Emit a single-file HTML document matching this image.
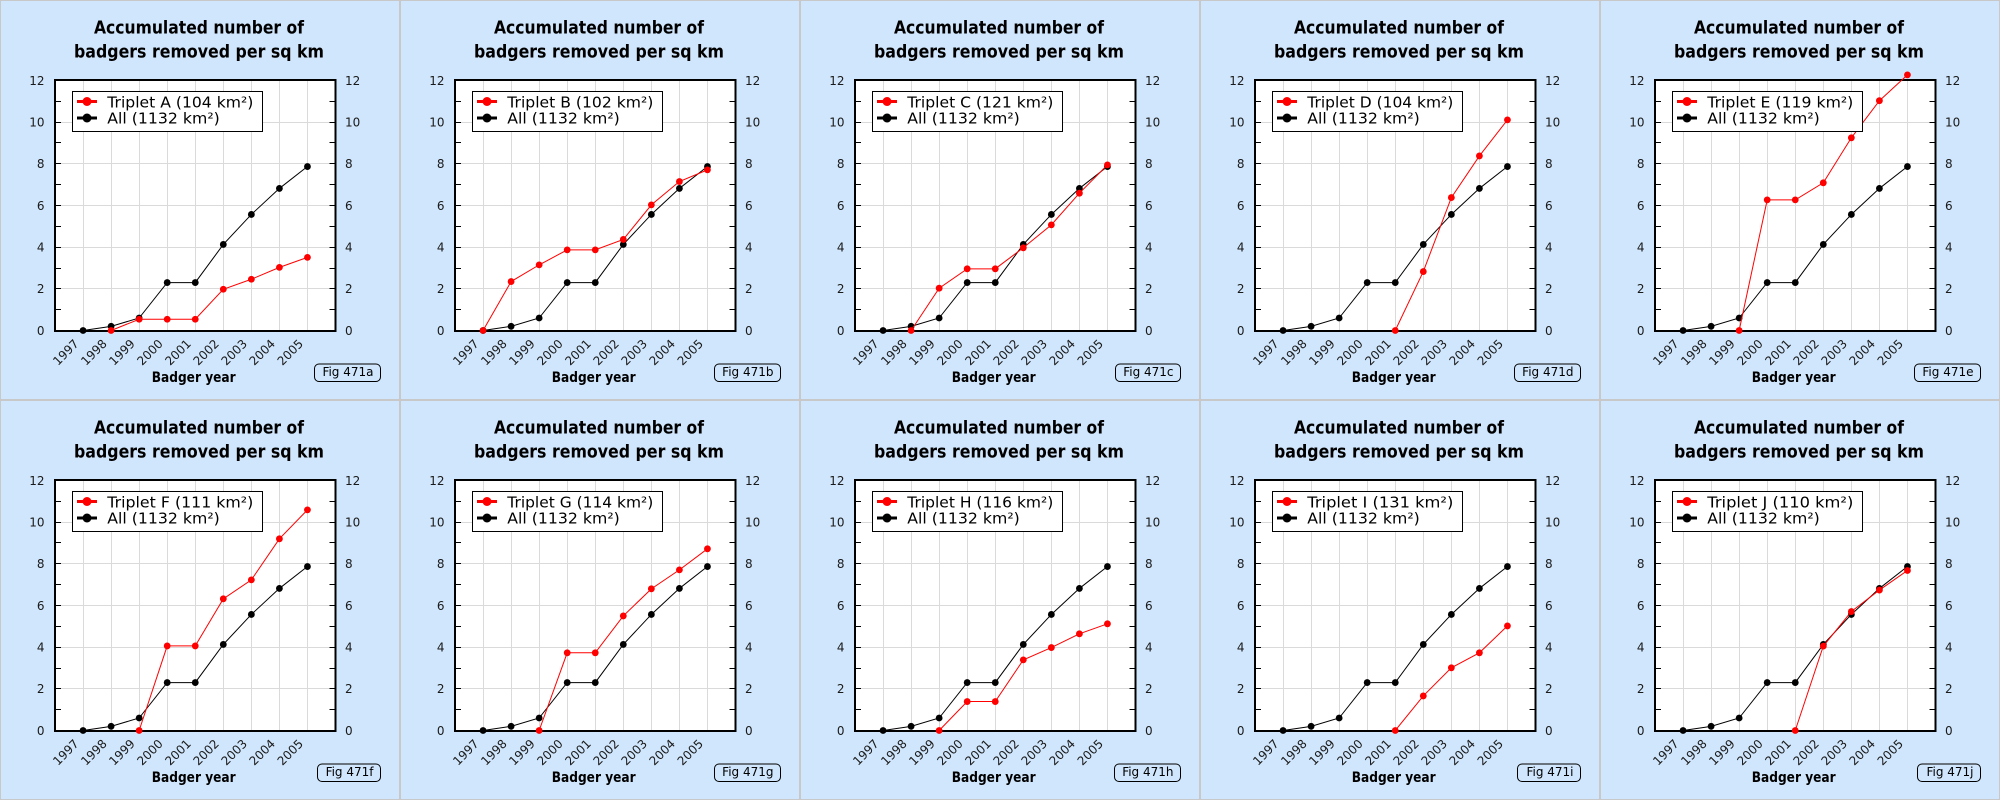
<!DOCTYPE html>
<html><head><meta charset="utf-8"><style>
html,body{margin:0;padding:0;background:#d0e6fc}
svg{display:block}
svg text{font-family:"DejaVu Sans","Liberation Sans",sans-serif}
.ti{font-size:17.5px;font-weight:bold;text-anchor:middle;fill:#000}
.yl{font-size:12px;text-anchor:end;fill:#1a1a1a}
.yr{font-size:12px;fill:#1a1a1a}
.xl{font-size:12px;text-anchor:end;fill:#1a1a1a}
.ax{font-size:14px;font-weight:bold;text-anchor:middle;fill:#000}
.lg{font-size:15px;fill:#000}
.fg{font-size:12px;text-anchor:end;fill:#000}
.rs{fill:none;stroke:#f00;stroke-width:1;marker-start:url(#mr);marker-mid:url(#mr);marker-end:url(#mr)}
.ks{fill:none;stroke:#000;stroke-width:1;marker-start:url(#mk);marker-mid:url(#mk);marker-end:url(#mk)}
</style></head><body>
<svg xmlns="http://www.w3.org/2000/svg" xmlns:xlink="http://www.w3.org/1999/xlink" width="2000" height="800" viewBox="0 0 2000 800">
<defs>
<marker id="mr" viewBox="-5 -5 10 10" markerWidth="10" markerHeight="10" refX="0" refY="0" markerUnits="userSpaceOnUse"><circle r="3.4" fill="#f00"/></marker>
<marker id="mk" viewBox="-5 -5 10 10" markerWidth="10" markerHeight="10" refX="0" refY="0" markerUnits="userSpaceOnUse"><circle r="3.4" fill="#000"/></marker>
<g id="base">
<rect x="0.5" y="0.5" width="399" height="399" fill="#d0e6fc" stroke="#c8c8c8"/>
<rect x="55" y="80" width="280.5" height="251" fill="#fff"/>
<path d="M83.5 80V331M111.5 80V331M139.5 80V331M167.5 80V331M195.5 80V331M223.5 80V331M251.5 80V331M279.5 80V331M307.5 80V331M55 288.5H335.5M55 247.5H335.5M55 205.5H335.5M55 163.5H335.5M55 122.5H335.5" stroke="#dadada" stroke-width="1" fill="none"/>
<path d="M56 309.5h5M56 288.5h5M56 268.5h5M56 247.5h5M56 226.5h5M56 205.5h5M56 184.5h5M56 163.5h5M56 142.5h5M56 122.5h5M56 101.5h5M334.5 309.5h-5M334.5 288.5h-5M334.5 268.5h-5M334.5 247.5h-5M334.5 226.5h-5M334.5 205.5h-5M334.5 184.5h-5M334.5 163.5h-5M334.5 142.5h-5M334.5 122.5h-5M334.5 101.5h-5" stroke="#000" stroke-width="1" fill="none"/>
<rect x="55" y="80" width="280.5" height="251" fill="none" stroke="#000" stroke-width="2"/>
<polyline class="ks" points="83.05,330.5 111.1,326.33 139.15,318 167.2,282.58 195.25,282.58 223.3,244.46 251.35,214.46 279.4,188.42 307.45,166.54"/>
</g>
<g id="leg">
<rect x="72.5" y="91.5" width="190" height="40" fill="#fff" stroke="#000"/>
<path d="M77 101.5H97" stroke="#f00" stroke-width="3"/>
<circle cx="87" cy="101.5" r="4.5" fill="#f00"/>
<path d="M77 118H97" stroke="#000" stroke-width="3"/>
<circle cx="87" cy="118" r="4.5" fill="#000"/>
</g>
</defs>

<!-- Panel A -->
<g transform="translate(0,0)">
<use xlink:href="#base"/>
<polyline class="rs" points="111.1,330.5 139.15,319.25 167.2,319.25 195.25,319.25 223.3,289.25 251.35,279.25 279.4,267.38 307.45,257.38"/>
<use xlink:href="#leg"/>
<text class="ti" x="199" y="33.3" textLength="210" lengthAdjust="spacingAndGlyphs">Accumulated number of</text>
<text class="ti" x="199" y="57.3" textLength="250" lengthAdjust="spacingAndGlyphs">badgers removed per sq km</text>
<text class="yl" x="44.5" y="334.8">0</text><text class="yl" x="44.5" y="293.1">2</text><text class="yl" x="44.5" y="251.5">4</text><text class="yl" x="44.5" y="209.8">6</text><text class="yl" x="44.5" y="168.1">8</text><text class="yl" x="44.5" y="126.5">10</text><text class="yl" x="44.5" y="84.8">12</text>
<text class="yr" x="345" y="334.8">0</text><text class="yr" x="345" y="293.1">2</text><text class="yr" x="345" y="251.5">4</text><text class="yr" x="345" y="209.8">6</text><text class="yr" x="345" y="168.1">8</text><text class="yr" x="345" y="126.5">10</text><text class="yr" x="345" y="84.8">12</text>
<text class="xl" transform="translate(79.55 344.5) rotate(-45)">1997</text><text class="xl" transform="translate(107.6 344.5) rotate(-45)">1998</text><text class="xl" transform="translate(135.65 344.5) rotate(-45)">1999</text><text class="xl" transform="translate(163.7 344.5) rotate(-45)">2000</text><text class="xl" transform="translate(191.75 344.5) rotate(-45)">2001</text><text class="xl" transform="translate(219.8 344.5) rotate(-45)">2002</text><text class="xl" transform="translate(247.85 344.5) rotate(-45)">2003</text><text class="xl" transform="translate(275.9 344.5) rotate(-45)">2004</text><text class="xl" transform="translate(303.95 344.5) rotate(-45)">2005</text>
<text class="ax" x="193.7" y="382" textLength="84" lengthAdjust="spacingAndGlyphs">Badger year</text>
<text class="lg" x="107.3" y="107.5" textLength="146" lengthAdjust="spacingAndGlyphs">Triplet A (104 km²)</text>
<text class="lg" x="107.3" y="123.5" textLength="112.5" lengthAdjust="spacingAndGlyphs">All (1132 km²)</text>
<rect x="314.5" y="364" width="66" height="17.5" rx="4.5" fill="none" stroke="#000"/>
<text class="fg" x="373.5" y="376">Fig 471a</text>
</g>

<!-- Panel B -->
<g transform="translate(400,0)">
<use xlink:href="#base"/>
<polyline class="rs" points="83.05,330.5 111.1,281.54 139.15,264.88 167.2,249.88 195.25,249.88 223.3,239.46 251.35,204.88 279.4,181.54 307.45,169.88"/>
<use xlink:href="#leg"/>
<text class="ti" x="199" y="33.3" textLength="210" lengthAdjust="spacingAndGlyphs">Accumulated number of</text>
<text class="ti" x="199" y="57.3" textLength="250" lengthAdjust="spacingAndGlyphs">badgers removed per sq km</text>
<text class="yl" x="44.5" y="334.8">0</text><text class="yl" x="44.5" y="293.1">2</text><text class="yl" x="44.5" y="251.5">4</text><text class="yl" x="44.5" y="209.8">6</text><text class="yl" x="44.5" y="168.1">8</text><text class="yl" x="44.5" y="126.5">10</text><text class="yl" x="44.5" y="84.8">12</text>
<text class="yr" x="345" y="334.8">0</text><text class="yr" x="345" y="293.1">2</text><text class="yr" x="345" y="251.5">4</text><text class="yr" x="345" y="209.8">6</text><text class="yr" x="345" y="168.1">8</text><text class="yr" x="345" y="126.5">10</text><text class="yr" x="345" y="84.8">12</text>
<text class="xl" transform="translate(79.55 344.5) rotate(-45)">1997</text><text class="xl" transform="translate(107.6 344.5) rotate(-45)">1998</text><text class="xl" transform="translate(135.65 344.5) rotate(-45)">1999</text><text class="xl" transform="translate(163.7 344.5) rotate(-45)">2000</text><text class="xl" transform="translate(191.75 344.5) rotate(-45)">2001</text><text class="xl" transform="translate(219.8 344.5) rotate(-45)">2002</text><text class="xl" transform="translate(247.85 344.5) rotate(-45)">2003</text><text class="xl" transform="translate(275.9 344.5) rotate(-45)">2004</text><text class="xl" transform="translate(303.95 344.5) rotate(-45)">2005</text>
<text class="ax" x="193.7" y="382" textLength="84" lengthAdjust="spacingAndGlyphs">Badger year</text>
<text class="lg" x="107.3" y="107.5" textLength="146" lengthAdjust="spacingAndGlyphs">Triplet B (102 km²)</text>
<text class="lg" x="107.3" y="123.5" textLength="112.5" lengthAdjust="spacingAndGlyphs">All (1132 km²)</text>
<rect x="314.5" y="364" width="66" height="17.5" rx="4.5" fill="none" stroke="#000"/>
<text class="fg" x="373.5" y="376">Fig 471b</text>
</g>

<!-- Panel C -->
<g transform="translate(800,0)">
<use xlink:href="#base"/>
<polyline class="rs" points="111.1,330.5 139.15,288.21 167.2,268.83 195.25,268.83 223.3,247.79 251.35,224.88 279.4,193.21 307.45,164.88"/>
<use xlink:href="#leg"/>
<text class="ti" x="199" y="33.3" textLength="210" lengthAdjust="spacingAndGlyphs">Accumulated number of</text>
<text class="ti" x="199" y="57.3" textLength="250" lengthAdjust="spacingAndGlyphs">badgers removed per sq km</text>
<text class="yl" x="44.5" y="334.8">0</text><text class="yl" x="44.5" y="293.1">2</text><text class="yl" x="44.5" y="251.5">4</text><text class="yl" x="44.5" y="209.8">6</text><text class="yl" x="44.5" y="168.1">8</text><text class="yl" x="44.5" y="126.5">10</text><text class="yl" x="44.5" y="84.8">12</text>
<text class="yr" x="345" y="334.8">0</text><text class="yr" x="345" y="293.1">2</text><text class="yr" x="345" y="251.5">4</text><text class="yr" x="345" y="209.8">6</text><text class="yr" x="345" y="168.1">8</text><text class="yr" x="345" y="126.5">10</text><text class="yr" x="345" y="84.8">12</text>
<text class="xl" transform="translate(79.55 344.5) rotate(-45)">1997</text><text class="xl" transform="translate(107.6 344.5) rotate(-45)">1998</text><text class="xl" transform="translate(135.65 344.5) rotate(-45)">1999</text><text class="xl" transform="translate(163.7 344.5) rotate(-45)">2000</text><text class="xl" transform="translate(191.75 344.5) rotate(-45)">2001</text><text class="xl" transform="translate(219.8 344.5) rotate(-45)">2002</text><text class="xl" transform="translate(247.85 344.5) rotate(-45)">2003</text><text class="xl" transform="translate(275.9 344.5) rotate(-45)">2004</text><text class="xl" transform="translate(303.95 344.5) rotate(-45)">2005</text>
<text class="ax" x="193.7" y="382" textLength="84" lengthAdjust="spacingAndGlyphs">Badger year</text>
<text class="lg" x="107.3" y="107.5" textLength="146" lengthAdjust="spacingAndGlyphs">Triplet C (121 km²)</text>
<text class="lg" x="107.3" y="123.5" textLength="112.5" lengthAdjust="spacingAndGlyphs">All (1132 km²)</text>
<rect x="315.5" y="364" width="65" height="17.5" rx="4.5" fill="none" stroke="#000"/>
<text class="fg" x="373.5" y="376">Fig 471c</text>
</g>

<!-- Panel D -->
<g transform="translate(1200,0)">
<use xlink:href="#base"/>
<polyline class="rs" points="195.25,330.5 223.3,271.54 251.35,197.58 279.4,155.92 307.45,119.88"/>
<use xlink:href="#leg"/>
<text class="ti" x="199" y="33.3" textLength="210" lengthAdjust="spacingAndGlyphs">Accumulated number of</text>
<text class="ti" x="199" y="57.3" textLength="250" lengthAdjust="spacingAndGlyphs">badgers removed per sq km</text>
<text class="yl" x="44.5" y="334.8">0</text><text class="yl" x="44.5" y="293.1">2</text><text class="yl" x="44.5" y="251.5">4</text><text class="yl" x="44.5" y="209.8">6</text><text class="yl" x="44.5" y="168.1">8</text><text class="yl" x="44.5" y="126.5">10</text><text class="yl" x="44.5" y="84.8">12</text>
<text class="yr" x="345" y="334.8">0</text><text class="yr" x="345" y="293.1">2</text><text class="yr" x="345" y="251.5">4</text><text class="yr" x="345" y="209.8">6</text><text class="yr" x="345" y="168.1">8</text><text class="yr" x="345" y="126.5">10</text><text class="yr" x="345" y="84.8">12</text>
<text class="xl" transform="translate(79.55 344.5) rotate(-45)">1997</text><text class="xl" transform="translate(107.6 344.5) rotate(-45)">1998</text><text class="xl" transform="translate(135.65 344.5) rotate(-45)">1999</text><text class="xl" transform="translate(163.7 344.5) rotate(-45)">2000</text><text class="xl" transform="translate(191.75 344.5) rotate(-45)">2001</text><text class="xl" transform="translate(219.8 344.5) rotate(-45)">2002</text><text class="xl" transform="translate(247.85 344.5) rotate(-45)">2003</text><text class="xl" transform="translate(275.9 344.5) rotate(-45)">2004</text><text class="xl" transform="translate(303.95 344.5) rotate(-45)">2005</text>
<text class="ax" x="193.7" y="382" textLength="84" lengthAdjust="spacingAndGlyphs">Badger year</text>
<text class="lg" x="107.3" y="107.5" textLength="146" lengthAdjust="spacingAndGlyphs">Triplet D (104 km²)</text>
<text class="lg" x="107.3" y="123.5" textLength="112.5" lengthAdjust="spacingAndGlyphs">All (1132 km²)</text>
<rect x="314.5" y="364" width="66" height="17.5" rx="4.5" fill="none" stroke="#000"/>
<text class="fg" x="373.5" y="376">Fig 471d</text>
</g>

<!-- Panel E -->
<g transform="translate(1600,0)">
<use xlink:href="#base"/>
<polyline class="rs" points="139.15,330.5 167.2,199.88 195.25,199.88 223.3,182.79 251.35,137.79 279.4,100.71 307.45,74.88"/>
<use xlink:href="#leg"/>
<text class="ti" x="199" y="33.3" textLength="210" lengthAdjust="spacingAndGlyphs">Accumulated number of</text>
<text class="ti" x="199" y="57.3" textLength="250" lengthAdjust="spacingAndGlyphs">badgers removed per sq km</text>
<text class="yl" x="44.5" y="334.8">0</text><text class="yl" x="44.5" y="293.1">2</text><text class="yl" x="44.5" y="251.5">4</text><text class="yl" x="44.5" y="209.8">6</text><text class="yl" x="44.5" y="168.1">8</text><text class="yl" x="44.5" y="126.5">10</text><text class="yl" x="44.5" y="84.8">12</text>
<text class="yr" x="345" y="334.8">0</text><text class="yr" x="345" y="293.1">2</text><text class="yr" x="345" y="251.5">4</text><text class="yr" x="345" y="209.8">6</text><text class="yr" x="345" y="168.1">8</text><text class="yr" x="345" y="126.5">10</text><text class="yr" x="345" y="84.8">12</text>
<text class="xl" transform="translate(79.55 344.5) rotate(-45)">1997</text><text class="xl" transform="translate(107.6 344.5) rotate(-45)">1998</text><text class="xl" transform="translate(135.65 344.5) rotate(-45)">1999</text><text class="xl" transform="translate(163.7 344.5) rotate(-45)">2000</text><text class="xl" transform="translate(191.75 344.5) rotate(-45)">2001</text><text class="xl" transform="translate(219.8 344.5) rotate(-45)">2002</text><text class="xl" transform="translate(247.85 344.5) rotate(-45)">2003</text><text class="xl" transform="translate(275.9 344.5) rotate(-45)">2004</text><text class="xl" transform="translate(303.95 344.5) rotate(-45)">2005</text>
<text class="ax" x="193.7" y="382" textLength="84" lengthAdjust="spacingAndGlyphs">Badger year</text>
<text class="lg" x="107.3" y="107.5" textLength="146" lengthAdjust="spacingAndGlyphs">Triplet E (119 km²)</text>
<text class="lg" x="107.3" y="123.5" textLength="112.5" lengthAdjust="spacingAndGlyphs">All (1132 km²)</text>
<rect x="314.5" y="364" width="66" height="17.5" rx="4.5" fill="none" stroke="#000"/>
<text class="fg" x="373.5" y="376">Fig 471e</text>
</g>

<!-- Panel F -->
<g transform="translate(0,400)">
<use xlink:href="#base"/>
<polyline class="rs" points="139.15,330.5 167.2,245.92 195.25,245.92 223.3,198.83 251.35,179.88 279.4,138.83 307.45,109.88"/>
<use xlink:href="#leg"/>
<text class="ti" x="199" y="33.3" textLength="210" lengthAdjust="spacingAndGlyphs">Accumulated number of</text>
<text class="ti" x="199" y="57.3" textLength="250" lengthAdjust="spacingAndGlyphs">badgers removed per sq km</text>
<text class="yl" x="44.5" y="334.8">0</text><text class="yl" x="44.5" y="293.1">2</text><text class="yl" x="44.5" y="251.5">4</text><text class="yl" x="44.5" y="209.8">6</text><text class="yl" x="44.5" y="168.1">8</text><text class="yl" x="44.5" y="126.5">10</text><text class="yl" x="44.5" y="84.8">12</text>
<text class="yr" x="345" y="334.8">0</text><text class="yr" x="345" y="293.1">2</text><text class="yr" x="345" y="251.5">4</text><text class="yr" x="345" y="209.8">6</text><text class="yr" x="345" y="168.1">8</text><text class="yr" x="345" y="126.5">10</text><text class="yr" x="345" y="84.8">12</text>
<text class="xl" transform="translate(79.55 344.5) rotate(-45)">1997</text><text class="xl" transform="translate(107.6 344.5) rotate(-45)">1998</text><text class="xl" transform="translate(135.65 344.5) rotate(-45)">1999</text><text class="xl" transform="translate(163.7 344.5) rotate(-45)">2000</text><text class="xl" transform="translate(191.75 344.5) rotate(-45)">2001</text><text class="xl" transform="translate(219.8 344.5) rotate(-45)">2002</text><text class="xl" transform="translate(247.85 344.5) rotate(-45)">2003</text><text class="xl" transform="translate(275.9 344.5) rotate(-45)">2004</text><text class="xl" transform="translate(303.95 344.5) rotate(-45)">2005</text>
<text class="ax" x="193.7" y="382" textLength="84" lengthAdjust="spacingAndGlyphs">Badger year</text>
<text class="lg" x="107.3" y="107.5" textLength="146" lengthAdjust="spacingAndGlyphs">Triplet F (111 km²)</text>
<text class="lg" x="107.3" y="123.5" textLength="112.5" lengthAdjust="spacingAndGlyphs">All (1132 km²)</text>
<rect x="317.5" y="364" width="63" height="17.5" rx="4.5" fill="none" stroke="#000"/>
<text class="fg" x="373.5" y="376">Fig 471f</text>
</g>

<!-- Panel G -->
<g transform="translate(400,400)">
<use xlink:href="#base"/>
<polyline class="rs" points="139.15,330.5 167.2,252.79 195.25,252.79 223.3,215.92 251.35,188.83 279.4,169.88 307.45,148.83"/>
<use xlink:href="#leg"/>
<text class="ti" x="199" y="33.3" textLength="210" lengthAdjust="spacingAndGlyphs">Accumulated number of</text>
<text class="ti" x="199" y="57.3" textLength="250" lengthAdjust="spacingAndGlyphs">badgers removed per sq km</text>
<text class="yl" x="44.5" y="334.8">0</text><text class="yl" x="44.5" y="293.1">2</text><text class="yl" x="44.5" y="251.5">4</text><text class="yl" x="44.5" y="209.8">6</text><text class="yl" x="44.5" y="168.1">8</text><text class="yl" x="44.5" y="126.5">10</text><text class="yl" x="44.5" y="84.8">12</text>
<text class="yr" x="345" y="334.8">0</text><text class="yr" x="345" y="293.1">2</text><text class="yr" x="345" y="251.5">4</text><text class="yr" x="345" y="209.8">6</text><text class="yr" x="345" y="168.1">8</text><text class="yr" x="345" y="126.5">10</text><text class="yr" x="345" y="84.8">12</text>
<text class="xl" transform="translate(79.55 344.5) rotate(-45)">1997</text><text class="xl" transform="translate(107.6 344.5) rotate(-45)">1998</text><text class="xl" transform="translate(135.65 344.5) rotate(-45)">1999</text><text class="xl" transform="translate(163.7 344.5) rotate(-45)">2000</text><text class="xl" transform="translate(191.75 344.5) rotate(-45)">2001</text><text class="xl" transform="translate(219.8 344.5) rotate(-45)">2002</text><text class="xl" transform="translate(247.85 344.5) rotate(-45)">2003</text><text class="xl" transform="translate(275.9 344.5) rotate(-45)">2004</text><text class="xl" transform="translate(303.95 344.5) rotate(-45)">2005</text>
<text class="ax" x="193.7" y="382" textLength="84" lengthAdjust="spacingAndGlyphs">Badger year</text>
<text class="lg" x="107.3" y="107.5" textLength="146" lengthAdjust="spacingAndGlyphs">Triplet G (114 km²)</text>
<text class="lg" x="107.3" y="123.5" textLength="112.5" lengthAdjust="spacingAndGlyphs">All (1132 km²)</text>
<rect x="314.5" y="364" width="66" height="17.5" rx="4.5" fill="none" stroke="#000"/>
<text class="fg" x="373.5" y="376">Fig 471g</text>
</g>

<!-- Panel H -->
<g transform="translate(800,400)">
<use xlink:href="#base"/>
<polyline class="rs" points="139.15,330.5 167.2,301.54 195.25,301.54 223.3,259.88 251.35,247.58 279.4,233.83 307.45,223.83"/>
<use xlink:href="#leg"/>
<text class="ti" x="199" y="33.3" textLength="210" lengthAdjust="spacingAndGlyphs">Accumulated number of</text>
<text class="ti" x="199" y="57.3" textLength="250" lengthAdjust="spacingAndGlyphs">badgers removed per sq km</text>
<text class="yl" x="44.5" y="334.8">0</text><text class="yl" x="44.5" y="293.1">2</text><text class="yl" x="44.5" y="251.5">4</text><text class="yl" x="44.5" y="209.8">6</text><text class="yl" x="44.5" y="168.1">8</text><text class="yl" x="44.5" y="126.5">10</text><text class="yl" x="44.5" y="84.8">12</text>
<text class="yr" x="345" y="334.8">0</text><text class="yr" x="345" y="293.1">2</text><text class="yr" x="345" y="251.5">4</text><text class="yr" x="345" y="209.8">6</text><text class="yr" x="345" y="168.1">8</text><text class="yr" x="345" y="126.5">10</text><text class="yr" x="345" y="84.8">12</text>
<text class="xl" transform="translate(79.55 344.5) rotate(-45)">1997</text><text class="xl" transform="translate(107.6 344.5) rotate(-45)">1998</text><text class="xl" transform="translate(135.65 344.5) rotate(-45)">1999</text><text class="xl" transform="translate(163.7 344.5) rotate(-45)">2000</text><text class="xl" transform="translate(191.75 344.5) rotate(-45)">2001</text><text class="xl" transform="translate(219.8 344.5) rotate(-45)">2002</text><text class="xl" transform="translate(247.85 344.5) rotate(-45)">2003</text><text class="xl" transform="translate(275.9 344.5) rotate(-45)">2004</text><text class="xl" transform="translate(303.95 344.5) rotate(-45)">2005</text>
<text class="ax" x="193.7" y="382" textLength="84" lengthAdjust="spacingAndGlyphs">Badger year</text>
<text class="lg" x="107.3" y="107.5" textLength="146" lengthAdjust="spacingAndGlyphs">Triplet H (116 km²)</text>
<text class="lg" x="107.3" y="123.5" textLength="112.5" lengthAdjust="spacingAndGlyphs">All (1132 km²)</text>
<rect x="314.5" y="364" width="66" height="17.5" rx="4.5" fill="none" stroke="#000"/>
<text class="fg" x="373.5" y="376">Fig 471h</text>
</g>

<!-- Panel I -->
<g transform="translate(1200,400)">
<use xlink:href="#base"/>
<polyline class="rs" points="195.25,330.5 223.3,295.92 251.35,267.79 279.4,252.79 307.45,225.92"/>
<use xlink:href="#leg"/>
<text class="ti" x="199" y="33.3" textLength="210" lengthAdjust="spacingAndGlyphs">Accumulated number of</text>
<text class="ti" x="199" y="57.3" textLength="250" lengthAdjust="spacingAndGlyphs">badgers removed per sq km</text>
<text class="yl" x="44.5" y="334.8">0</text><text class="yl" x="44.5" y="293.1">2</text><text class="yl" x="44.5" y="251.5">4</text><text class="yl" x="44.5" y="209.8">6</text><text class="yl" x="44.5" y="168.1">8</text><text class="yl" x="44.5" y="126.5">10</text><text class="yl" x="44.5" y="84.8">12</text>
<text class="yr" x="345" y="334.8">0</text><text class="yr" x="345" y="293.1">2</text><text class="yr" x="345" y="251.5">4</text><text class="yr" x="345" y="209.8">6</text><text class="yr" x="345" y="168.1">8</text><text class="yr" x="345" y="126.5">10</text><text class="yr" x="345" y="84.8">12</text>
<text class="xl" transform="translate(79.55 344.5) rotate(-45)">1997</text><text class="xl" transform="translate(107.6 344.5) rotate(-45)">1998</text><text class="xl" transform="translate(135.65 344.5) rotate(-45)">1999</text><text class="xl" transform="translate(163.7 344.5) rotate(-45)">2000</text><text class="xl" transform="translate(191.75 344.5) rotate(-45)">2001</text><text class="xl" transform="translate(219.8 344.5) rotate(-45)">2002</text><text class="xl" transform="translate(247.85 344.5) rotate(-45)">2003</text><text class="xl" transform="translate(275.9 344.5) rotate(-45)">2004</text><text class="xl" transform="translate(303.95 344.5) rotate(-45)">2005</text>
<text class="ax" x="193.7" y="382" textLength="84" lengthAdjust="spacingAndGlyphs">Badger year</text>
<text class="lg" x="107.3" y="107.5" textLength="146" lengthAdjust="spacingAndGlyphs">Triplet I (131 km²)</text>
<text class="lg" x="107.3" y="123.5" textLength="112.5" lengthAdjust="spacingAndGlyphs">All (1132 km²)</text>
<rect x="317.5" y="364" width="63" height="17.5" rx="4.5" fill="none" stroke="#000"/>
<text class="fg" x="373.5" y="376">Fig 471i</text>
</g>

<!-- Panel J -->
<g transform="translate(1600,400)">
<use xlink:href="#base"/>
<polyline class="rs" points="195.25,330.5 223.3,246.13 251.35,211.54 279.4,190.08 307.45,170.5"/>
<use xlink:href="#leg"/>
<text class="ti" x="199" y="33.3" textLength="210" lengthAdjust="spacingAndGlyphs">Accumulated number of</text>
<text class="ti" x="199" y="57.3" textLength="250" lengthAdjust="spacingAndGlyphs">badgers removed per sq km</text>
<text class="yl" x="44.5" y="334.8">0</text><text class="yl" x="44.5" y="293.1">2</text><text class="yl" x="44.5" y="251.5">4</text><text class="yl" x="44.5" y="209.8">6</text><text class="yl" x="44.5" y="168.1">8</text><text class="yl" x="44.5" y="126.5">10</text><text class="yl" x="44.5" y="84.8">12</text>
<text class="yr" x="345" y="334.8">0</text><text class="yr" x="345" y="293.1">2</text><text class="yr" x="345" y="251.5">4</text><text class="yr" x="345" y="209.8">6</text><text class="yr" x="345" y="168.1">8</text><text class="yr" x="345" y="126.5">10</text><text class="yr" x="345" y="84.8">12</text>
<text class="xl" transform="translate(79.55 344.5) rotate(-45)">1997</text><text class="xl" transform="translate(107.6 344.5) rotate(-45)">1998</text><text class="xl" transform="translate(135.65 344.5) rotate(-45)">1999</text><text class="xl" transform="translate(163.7 344.5) rotate(-45)">2000</text><text class="xl" transform="translate(191.75 344.5) rotate(-45)">2001</text><text class="xl" transform="translate(219.8 344.5) rotate(-45)">2002</text><text class="xl" transform="translate(247.85 344.5) rotate(-45)">2003</text><text class="xl" transform="translate(275.9 344.5) rotate(-45)">2004</text><text class="xl" transform="translate(303.95 344.5) rotate(-45)">2005</text>
<text class="ax" x="193.7" y="382" textLength="84" lengthAdjust="spacingAndGlyphs">Badger year</text>
<text class="lg" x="107.3" y="107.5" textLength="146" lengthAdjust="spacingAndGlyphs">Triplet J (110 km²)</text>
<text class="lg" x="107.3" y="123.5" textLength="112.5" lengthAdjust="spacingAndGlyphs">All (1132 km²)</text>
<rect x="317.5" y="364" width="63" height="17.5" rx="4.5" fill="none" stroke="#000"/>
<text class="fg" x="373.5" y="376">Fig 471j</text>
</g>
</svg>
</body></html>
